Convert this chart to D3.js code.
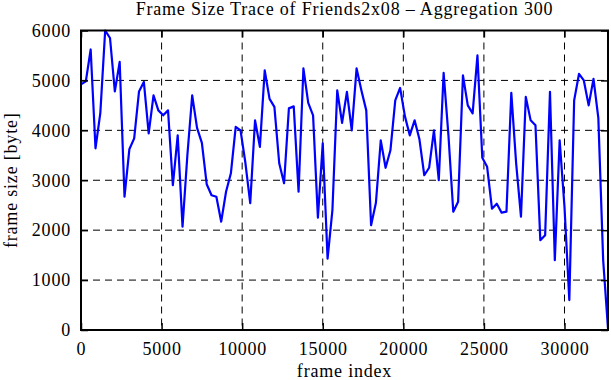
<!DOCTYPE html>
<html>
<head>
<meta charset="utf-8">
<script src="https://cdn.jsdelivr.net/npm/d3@7"></script>
<style>
  body { margin: 0; background: #fff; }
  text { font-family: "Liberation Serif", "Times New Roman", serif; font-size: 18px; letter-spacing: 0.8px; fill: #000; }
</style>
</head>
<body>
<svg id="chart" width="611" height="380"></svg>
<script>
// frame size per aggregated block of 300 frames
const aggregation = 300;
const frameSizes = [
  4920, 4980, 5620, 3640, 4350, 6000, 5850, 4780, 5370, 2670,
  3620, 3840, 4780, 4970, 3940, 4700, 4400, 4300, 4400, 2900,
  3900, 2070, 3500, 4700, 4050, 3750, 2920, 2700, 2670, 2170,
  2770, 3140, 4070, 4000, 3350, 2540, 4200, 3670, 5200, 4630,
  4470, 3340, 2940, 4440, 4480, 2770, 5240, 4550, 4300, 2250,
  3740, 1430, 2400, 4800, 4150, 4770, 4000, 5240, 4800, 4400,
  2100, 2550, 3800, 3250, 3600, 4600, 4850, 4280, 3900, 4200,
  3820, 3100, 3250, 4000, 3000, 5150, 3900, 2370, 2570, 5100,
  4500, 4340, 5500, 3450, 3270, 2430, 2530, 2350, 2370, 4750,
  3340, 2270, 4670, 4200, 4100, 1800, 1900, 4770, 1400, 3800,
  2470, 600, 4600, 5130, 5000, 4500, 5030, 4250, 1400, 30
];
const xTicks = [0, 5000, 10000, 15000, 20000, 25000, 30000];
const yTicks = [0, 1000, 2000, 3000, 4000, 5000, 6000];
const xMax = 32700;

var svg = d3.select('#chart');
var margin = { t: 30.5, r: 3, b: 50, l: 81 };
var width = 611 - margin.l - margin.r;
var height = 380 - margin.t - margin.b;

var x = d3.scaleLinear().domain([0, xMax]).range([0, width]);
var y = d3.scaleLinear().domain([0, 6000]).range([height, 0]);

var g = svg.append('g').attr('transform', `translate(${margin.l}, ${margin.t})`);

// dashed grid
g.selectAll('.gx').data(xTicks.slice(1)).enter().append('line')
  .attr('x1', d => x(d)).attr('x2', d => x(d))
  .attr('y1', 0).attr('y2', height)
  .attr('stroke', '#000').attr('stroke-width', 1).attr('stroke-dasharray', '7,5');
g.selectAll('.gy').data(yTicks.slice(1, -1)).enter().append('line')
  .attr('x1', 0).attr('x2', width)
  .attr('y1', d => y(d)).attr('y2', d => y(d))
  .attr('stroke', '#000').attr('stroke-width', 1).attr('stroke-dasharray', '7,5');

// the trace
var line = d3.line()
  .x((d, i) => x(i * aggregation))
  .y(d => y(d));
g.append('path').datum(frameSizes)
  .attr('d', line)
  .attr('fill', 'none')
  .attr('stroke', '#0000ff')
  .attr('stroke-width', 2.2)
  .attr('stroke-linejoin', 'round');

// axes, ticks pointing inward on all four sides
var tick = 7;
var fmt = d3.format('d');
g.append('g').attr('transform', `translate(0, ${height})`)
  .call(d3.axisBottom(x).tickValues(xTicks).tickSize(-tick).tickPadding(12).tickFormat(fmt))
  .call(a => a.select('.domain').remove());
g.append('g')
  .call(d3.axisTop(x).tickValues(xTicks).tickSize(-tick).tickFormat(''))
  .call(a => a.select('.domain').remove());
g.append('g')
  .call(d3.axisLeft(y).tickValues(yTicks).tickSize(-tick).tickPadding(10).tickFormat(fmt))
  .call(a => a.select('.domain').remove());
g.append('g').attr('transform', `translate(${width}, 0)`)
  .call(d3.axisRight(y).tickValues(yTicks).tickSize(-tick).tickFormat(''))
  .call(a => a.select('.domain').remove());

g.selectAll('.tick line').attr('stroke', '#000').attr('stroke-width', 1.5);
g.selectAll('.tick text').style('font-size', '18px').style('font-family', '"Liberation Serif", serif');

g.append('rect')
  .attr('width', width).attr('height', height)
  .attr('fill', 'none').attr('stroke', '#000').attr('stroke-width', 2);

// labels
svg.append('text')
  .attr('x', margin.l + width / 2).attr('y', 15)
  .attr('text-anchor', 'middle')
  .text('Frame Size Trace of Friends2x08 \u2013 Aggregation 300');
svg.append('text')
  .attr('x', margin.l + width / 2).attr('y', 377)
  .attr('text-anchor', 'middle')
  .text('frame index');
svg.append('text')
  .attr('transform', `translate(17, ${margin.t + height / 2}) rotate(-90)`)
  .attr('text-anchor', 'middle')
  .text('frame size [byte]');
</script>
</body>
</html>
